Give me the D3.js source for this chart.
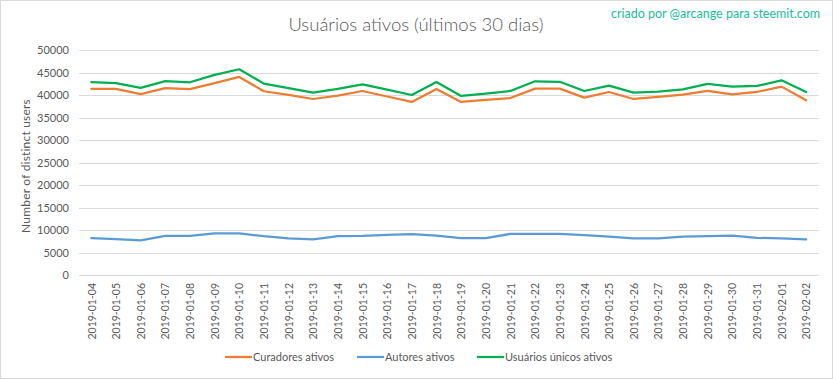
<!DOCTYPE html>
<html>
<head>
<meta charset="utf-8">
<script src="https://cdn.jsdelivr.net/npm/d3@7"></script>
<style>
  html, body { margin: 0; padding: 0; background: #fff; }
  svg { display: block; font-family: Lato, "Open Sans", sans-serif; }
</style>
</head>
<body>
<svg id="chart" width="833" height="379"></svg>
<script>
const dates = ["2019-01-04","2019-01-05","2019-01-06","2019-01-07","2019-01-08","2019-01-09","2019-01-10","2019-01-11","2019-01-12","2019-01-13","2019-01-14","2019-01-15","2019-01-16","2019-01-17","2019-01-18","2019-01-19","2019-01-20","2019-01-21","2019-01-22","2019-01-23","2019-01-24","2019-01-25","2019-01-26","2019-01-27","2019-01-28","2019-01-29","2019-01-30","2019-01-31","2019-02-01","2019-02-02"];
const curadores = [41400,41400,40200,41550,41320,42650,44040,40850,40040,39130,39870,40910,39690,38470,41360,38470,38910,39350,41430,41430,39430,40690,39130,39580,40100,40910,40170,40690,41880,38840];
const autores = [8190,7970,7680,8700,8700,9280,9280,8620,8120,7900,8620,8700,8910,9060,8770,8190,8190,9130,9130,9130,8840,8550,8120,8120,8550,8620,8770,8260,8120,7900];
const unicos = [42900,42650,41600,43100,42850,44500,45740,42550,41550,40540,41360,42400,41200,40020,42910,39800,40320,40910,43060,42950,40910,42100,40540,40760,41280,42470,41880,42030,43280,40690];
const yTicks = [0,5000,10000,15000,20000,25000,30000,35000,40000,45000,50000];
const seriesNames = ["Curadores ativos","Autores ativos","Usuários únicos ativos"];
const titleText = "Usuários ativos (últimos 30 dias)";
const creditText = "criado por @arcange para steemit.com";
const yTitle = "Number of distinct users";

const colors = ["#ED7D31","#5B9BD5","#00B050"];
const series = [curadores, autores, unicos];

const svg = d3.select("#chart");
const W = 833, H = 379;

svg.append("rect").attr("x",0.5).attr("y",0.5).attr("width",W-1).attr("height",H-1)
  .attr("fill","#fff").attr("stroke","#d9d9d9");

const x = d3.scalePoint().domain(dates).range([79, 818.5]).padding(0.5);
const y = d3.scaleLinear().domain([0,50000]).range([275, 50.1]);

// gridlines
svg.append("g").selectAll("line").data(yTicks).join("line")
  .attr("x1",79).attr("x2",818.5)
  .attr("y1",d=>Math.round(y(d))+0.5).attr("y2",d=>Math.round(y(d))+0.5)
  .attr("stroke","#d9d9d9").attr("stroke-width",1);

// y axis labels
const yAxis = d3.axisLeft(y).tickValues(yTicks).tickSize(0).tickPadding(0).tickFormat(d3.format("d"));
const gy = svg.append("g").attr("transform","translate(69,0)").call(yAxis);
gy.select(".domain").remove();
gy.selectAll("text").attr("fill","#595959").style("font-size","11px").style("font-family","Lato, sans-serif");

// x axis labels
const xAxis = d3.axisBottom(x).tickSize(0).tickPadding(0);
const gx = svg.append("g").attr("transform","translate(0,281)").call(xAxis);
gx.select(".domain").remove();
gx.selectAll("text")
  .attr("fill","#595959").style("font-size","10.5px").style("font-family","Lato, sans-serif")
  .attr("text-anchor","end").attr("dy","0.35em").attr("y",0)
  .attr("transform","rotate(-90)").attr("x",-2);

// lines
const line = d3.line().x((d,i)=>x(dates[i])).y(d=>y(d));
series.forEach((s,k)=>{
  svg.append("path").datum(s).attr("d",line)
    .attr("fill","none").attr("stroke",colors[k]).attr("stroke-width",2.25)
    .attr("stroke-linejoin","round").attr("stroke-linecap","round");
});

// title
svg.append("text").attr("x",416).attr("y",31).attr("text-anchor","middle")
  .attr("fill","#595959").style("font-size","18.5px").style("font-weight","300")
  .text(titleText);

// credit
svg.append("text").attr("x",820).attr("y",18).attr("text-anchor","end")
  .attr("fill","#1ABC9C").style("font-size","12.5px")
  .text(creditText);

// y title
svg.append("text").attr("transform","translate(30,166) rotate(-90)").attr("text-anchor","middle")
  .attr("fill","#595959").style("font-size","12px").style("letter-spacing","0.2px")
  .text(yTitle);

// legend
const legX = [225, 357, 477];
const lg = svg.append("g");
seriesNames.forEach((n,k)=>{
  lg.append("line").attr("x1",legX[k]).attr("x2",legX[k]+27).attr("y1",357).attr("y2",357)
    .attr("stroke",colors[k]).attr("stroke-width",2.25);
  lg.append("text").attr("x",legX[k]+28).attr("y",357).attr("dy","0.35em")
    .attr("fill","#595959").style("font-size","11px").text(n);
});
</script>
</body>
</html>
